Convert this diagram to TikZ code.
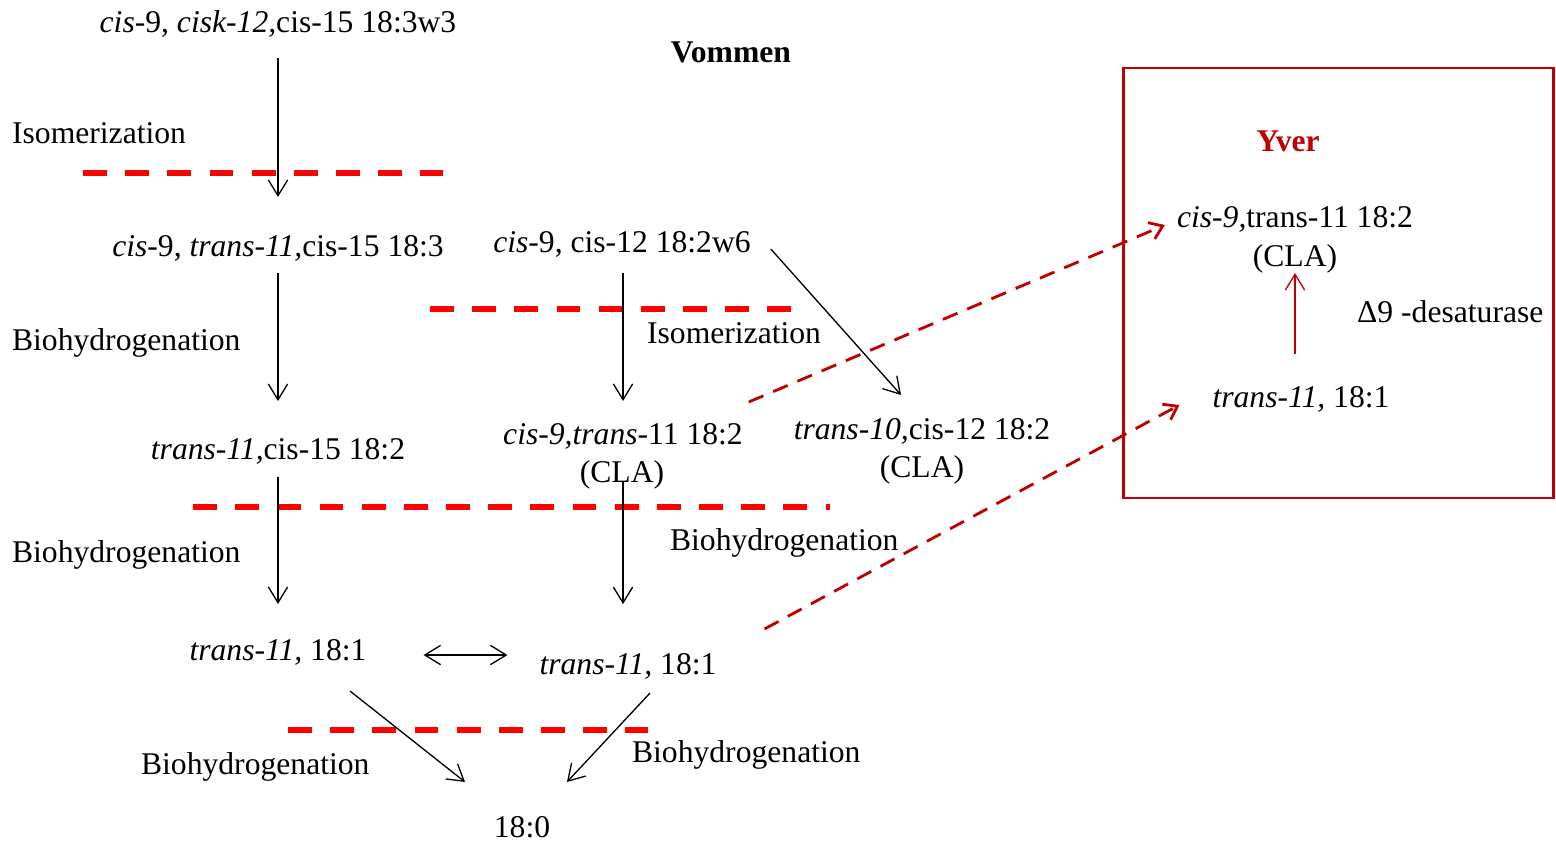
\documentclass[tikz,border=0pt]{standalone}
\usepackage{fontspec}
\setmainfont{Liberation Serif}
\usepackage{tikz}
\usetikzlibrary{arrows.meta,calc}
\definecolor{darkred}{HTML}{C00000}

\begin{document}
\begin{tikzpicture}[x=0.02cm,y=-0.02cm,
        every node/.style={font=\fontsize{18}{21}\selectfont,inner sep=1pt,text height=14.7pt,text depth=2.3pt},
        arr/.style={-{Straight Barb[length=9pt,width=11pt]},line width=0.75pt},
        dblarr/.style={{Straight Barb[length=9pt,width=11pt]}-{Straight Barb[length=9pt,width=11pt]},line width=0.75pt},
        redarr/.style={-{Straight Barb[length=9pt,width=11pt]},line width=0.75pt,darkred},
        reddash/.style={-{Straight Barb[length=7pt,width=10pt]},line width=1.6pt,darkred,dash pattern=on 9pt off 6pt},
        sep/.style={line width=3.2pt,red,dash pattern=on 13.6pt off 10.4pt}]
        \useasboundingbox (0,0) rectangle (1556,842);

        % Titles
        \node (rumen) at (731,52) {\textbf{Vommen}};
        \node[text=darkred] (tissue) at (1288,141) {\textbf{Yver}};

        % Left column compounds
        \node (lcomp0) at (278,22) {\textit{cis}-9, \textit{cisk-12,}cis-15 18:3w3};
        \node (lcomp1) at (278,246) {\textit{cis}-9, \textit{trans-11,}cis-15 18:3};
        \node (lcomp2) at (278,449) {\textit{trans-11,}cis-15 18:2};
        \node (lcomp3) at (278,650) {\textit{trans-11,} 18:1};

        % Middle column compounds
        \node (mcomp1) at (622,242) {\textit{cis}-9, cis-12 18:2w6};
        \node (mcomp2) at (623,434) {\textit{cis-9,trans}-11 18:2};
        \node (mcla) at (622,472) {(CLA)};
        \node (mcomp3) at (628,664) {\textit{trans-11,} 18:1};
        \node (rcomp1) at (922,429) {\textit{trans-10,}cis-12 18:2};
        \node (rcla) at (922,467) {(CLA)};
        \node (stearic) at (522,827) {18:0};

        % Step labels
        \node[anchor=west] (liso) at (10,133) {Isomerization};
        \node[anchor=west] (lbio1) at (10,340) {Biohydrogenation};
        \node[anchor=west] (lbio2) at (10,552) {Biohydrogenation};
        \node[anchor=west] (lbio3) at (139,764) {Biohydrogenation};
        \node[anchor=west] (miso) at (645,333) {Isomerization};
        \node[anchor=west] (mbio1) at (668,540) {Biohydrogenation};
        \node[anchor=west] (mbio2) at (630,752) {Biohydrogenation};

        % Tissue box
        \draw[darkred,line width=1.7pt] (1123,68) rectangle (1553,498);
        \node (bcomp1) at (1295,217) {\textit{cis-9,}trans-11 18:2};
        \node (bcla) at (1295,256) {(CLA)};
        \node (bcomp2) at (1301,397) {\textit{trans-11,} 18:1};
        \node[anchor=west] (desat) at (1355,312) {Δ9 -desaturase};

        % Separators
        \draw[sep] (83,173) -- (443,173);
        \draw[sep] (430,309) -- (792,309);
        \draw[sep] (193,507) -- (830,507);
        \draw[sep] (288,730) -- (648,730);

        % Arrows between compounds
        \draw[arr,shorten <=10.8pt,shorten >=18.2pt] (lcomp0) -- (lcomp1);
        \draw[arr,shorten <=5.7pt,shorten >=17.6pt] (lcomp1) -- (lcomp2);
        \draw[arr,shorten <=6.3pt,shorten >=16.5pt] (lcomp2) -- (lcomp3);
        \draw[arr,shorten <=8pt,shorten >=9.1pt] (mcomp1.south -| mcomp2) -- (mcomp2);
        \draw[arr,shorten <=17.1pt,shorten >=24.4pt] (mcomp2.south) -- (mcomp2.south |- mcomp3.north);
        \draw[arr] ([shift={(18,7)}]mcomp1.east) -- ([shift={(-21,-17)}]rcomp1.north);
        \draw[dblarr] ([shift={(55,5)}]lcomp3.east) -- ([shift={(-30,-9)}]mcomp3.west);
        \draw[arr] ([shift={(72,24)}]lcomp3.south) -- ([shift={(-57,-28)}]stearic.north);
        \draw[arr] ([shift={(22,12)}]mcomp3.south) -- ([shift={(45,-28)}]stearic.north);

        % Arrows to the tissue
        \draw[reddash] ([shift={(4,-15)}]mcomp2.north east) -- ([shift={(-10,8)}]bcomp1.west);
        \draw[reddash] ([shift={(46,-18)}]mcomp3.north east) -- ([shift={(-31,8)}]bcomp2.west);
        \draw[redarr,shorten <=14.8pt] (bcomp2.north -| bcla) -- (bcla);
\end{tikzpicture}
\end{document}
